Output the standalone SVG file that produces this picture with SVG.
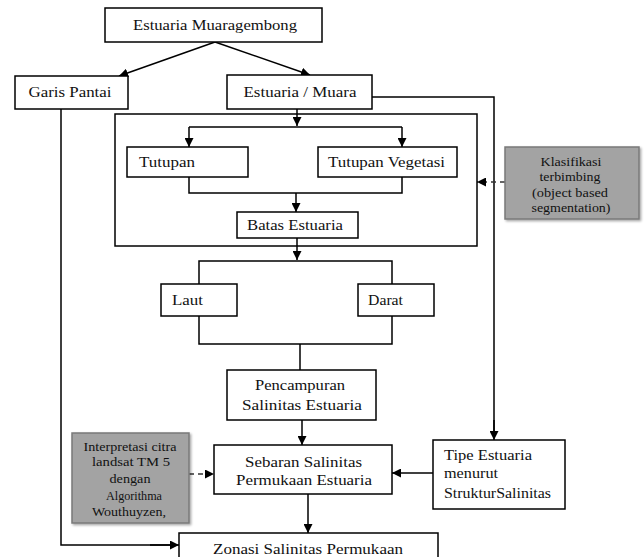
<svg xmlns="http://www.w3.org/2000/svg" width="644" height="557" viewBox="0 0 644 557">
<defs>
<marker id="ah" viewBox="0 0 10 10" refX="10" refY="5" markerWidth="9" markerHeight="9" markerUnits="userSpaceOnUse" orient="auto">
<path d="M0,0 L10,5 L0,10 z" fill="#000"/>
</marker>
<filter id="sh" x="-10%" y="-10%" width="130%" height="130%">
<feDropShadow dx="1.5" dy="1.5" stdDeviation="1" flood-color="#000" flood-opacity="0.35"/>
</filter>
</defs>
<style>
.box{fill:#fff;stroke:#000;stroke-width:1.5}
.gbox{fill:#a3a3a3;stroke:#7a7a7a;stroke-width:1.5}
.ln{fill:none;stroke:#000;stroke-width:1.5}
.arr{fill:none;stroke:#000;stroke-width:1.5;marker-end:url(#ah)}
.dash{fill:none;stroke:#333;stroke-width:1.5;stroke-dasharray:5,4;marker-end:url(#ah)}
text{font-family:"Liberation Serif","Times New Roman",serif;font-size:15px;fill:#111}
.c{text-anchor:middle}
.s{font-size:13px}
</style>
<rect width="644" height="557" fill="#fff"/>
<g id="connectors">
<path class="arr" d="M215,42 L119,76"/>
<path class="arr" d="M215,42 L310,75"/>
<path class="ln" d="M372,97 H494 V432"/>
<path class="arr" d="M494,420 V440"/>
<path class="ln" d="M61,109 V545 H170"/>
<path class="arr" d="M150,545 H179"/>
<path class="arr" d="M297,109 V126"/>
<path class="ln" d="M189,127 H402"/>
<path class="arr" d="M189,127 V147"/>
<path class="arr" d="M402,127 V147"/>
<path class="ln" d="M189,177 V193 H402 V177"/>
<path class="arr" d="M296,193 V212"/>
<path class="arr" d="M297,238 V260"/>
<path class="ln" d="M199,284 V261 H392 V284"/>
<path class="ln" d="M199,316 V344 H392 V316"/>
<path class="ln" d="M300,344 V370"/>
<path class="arr" d="M302,420 V445"/>
<path class="arr" d="M308,494 V533"/>
<path class="arr" d="M433,473 H392"/>
<path class="dash" d="M505,182 H477"/>
<path class="dash" d="M189,474 H214"/>
</g>
<g id="n-muaragembong"><rect class="box" x="105" y="8" width="217" height="34"/><text class="c" x="215" y="30" textLength="164" lengthAdjust="spacingAndGlyphs">Estuaria Muaragembong</text></g>
<g id="n-garis"><rect class="box" x="15" y="76" width="113" height="33"/><text class="c" x="70" y="97" textLength="83" lengthAdjust="spacingAndGlyphs">Garis Pantai</text></g>
<g id="n-muara"><rect class="box" x="227" y="75" width="145" height="34"/><text class="c" x="300" y="97" textLength="113" lengthAdjust="spacingAndGlyphs">Estuaria / Muara</text></g>
<g id="n-frame"><rect class="box" x="115" y="114" width="362" height="132" style="fill:none"/></g>
<g id="n-tutupan"><rect class="box" x="127" y="147" width="121" height="30"/><text x="139" y="167" textLength="56" lengthAdjust="spacingAndGlyphs">Tutupan</text></g>
<g id="n-vegetasi"><rect class="box" x="318" y="147" width="139" height="30"/><text x="328" y="167" textLength="117" lengthAdjust="spacingAndGlyphs">Tutupan Vegetasi</text></g>
<g id="n-batas"><rect class="box" x="237" y="212" width="121" height="26"/><text x="247" y="230" textLength="96" lengthAdjust="spacingAndGlyphs">Batas Estuaria</text></g>
<g id="n-laut"><rect class="box" x="161" y="284" width="76" height="32"/><text x="172" y="305" textLength="31" lengthAdjust="spacingAndGlyphs">Laut</text></g>
<g id="n-darat"><rect class="box" x="358" y="284" width="76" height="32"/><text x="368" y="305" textLength="35" lengthAdjust="spacingAndGlyphs">Darat</text></g>
<g id="n-pencampuran"><rect class="box" x="227" y="370" width="149" height="50"/><text x="255" y="390" textLength="90" lengthAdjust="spacingAndGlyphs">Pencampuran</text><text x="242" y="410" textLength="120" lengthAdjust="spacingAndGlyphs">Salinitas Estuaria</text></g>
<g id="n-sebaran"><rect class="box" x="214" y="445" width="178" height="49"/><text x="245" y="467" textLength="117" lengthAdjust="spacingAndGlyphs">Sebaran Salinitas</text><text x="236" y="485" textLength="136" lengthAdjust="spacingAndGlyphs">Permukaan Estuaria</text></g>
<g id="n-zonasi"><rect class="box" x="179" y="533" width="259" height="30"/><text x="213" y="554" textLength="190" lengthAdjust="spacingAndGlyphs">Zonasi Salinitas Permukaan</text></g>
<g id="n-tipe"><rect class="box" x="433" y="440" width="132" height="69"/><text x="444" y="460" textLength="88" lengthAdjust="spacingAndGlyphs">Tipe Estuaria</text><text x="444" y="478" textLength="54" lengthAdjust="spacingAndGlyphs">menurut</text><text x="444" y="498" textLength="107" lengthAdjust="spacingAndGlyphs">StrukturSalinitas</text></g>
<g id="n-klasifikasi"><rect class="gbox" filter="url(#sh)" x="505" y="147" width="134" height="72"/><text class="c s" x="571" y="166" textLength="61" lengthAdjust="spacingAndGlyphs">Klasifikasi</text><text class="c s" x="570" y="181" textLength="61" lengthAdjust="spacingAndGlyphs">terbimbing</text><text class="c s" x="570" y="197" textLength="76" lengthAdjust="spacingAndGlyphs">(object based</text><text class="c s" x="571" y="212" textLength="79" lengthAdjust="spacingAndGlyphs">segmentation)</text></g>
<g id="n-interpretasi"><rect class="gbox" filter="url(#sh)" x="72" y="433" width="117" height="90"/><text class="c s" x="130" y="451" textLength="93" lengthAdjust="spacingAndGlyphs">Interpretasi citra</text><text class="c s" x="131" y="466" textLength="78" lengthAdjust="spacingAndGlyphs">landsat TM 5</text><text class="c s" x="130" y="483" textLength="41" lengthAdjust="spacingAndGlyphs">dengan</text><text class="c s" x="134" y="500" textLength="56" lengthAdjust="spacingAndGlyphs">Algorithma</text><text class="c s" x="129" y="516" textLength="74" lengthAdjust="spacingAndGlyphs">Wouthuyzen,</text></g>
</svg>
